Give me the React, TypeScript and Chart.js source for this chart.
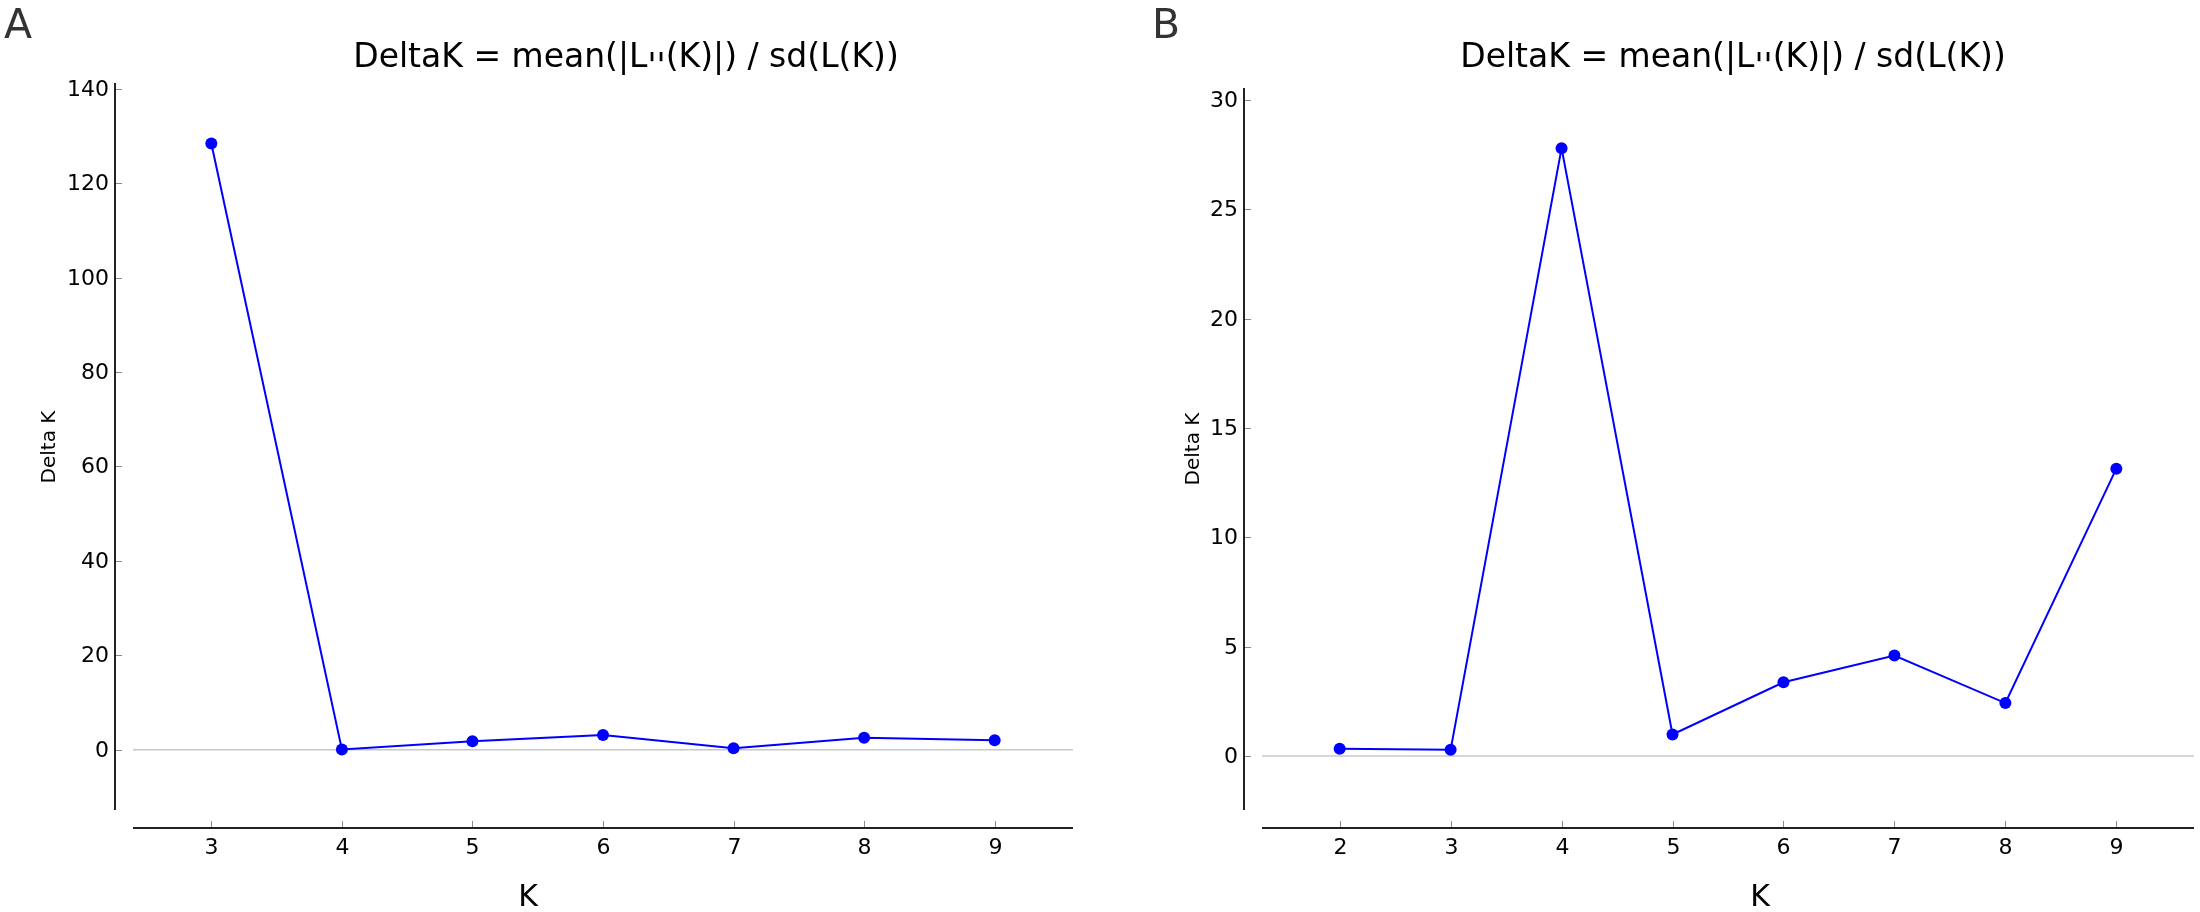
import React, { useEffect, useRef } from "react";
import { Chart, registerables } from "chart.js";

Chart.register(...registerables);

// ---- Data ----
const A_K = [3, 4, 5, 6, 7, 8, 9];
const A_DELTA = [128.4, 0.05, 1.8, 3.1, 0.3, 2.5, 2.0];
const A_Y_TICKS = [0, 20, 40, 60, 80, 100, 120, 140];

const B_K = [2, 3, 4, 5, 6, 7, 8, 9];
const B_DELTA = [0.33, 0.28, 27.8, 0.98, 3.37, 4.59, 2.42, 13.14];
const B_Y_TICKS = [0, 5, 10, 15, 20, 25, 30];

const TITLE_PARTS = ["DeltaK = mean(|L", "''", "(K)|) / sd(L(K))"];
const Y_LABEL = "Delta K";
const X_LABEL = "K";

const FONT = "'DejaVu Sans', sans-serif";

type PanelCfg = {
  letter: string;
  ks: number[];
  vals: number[];
  yTicks: number[];
  canvasLeft: number;
  area: { left: number; right: number; top: number; bottom: number };
  letterX: number;
  titleX: number;
  xLabelX: number;
  yLabelX: number;
  yLabelY: number;
};

const PANELS: PanelCfg[] = [
  {
    letter: "A",
    ks: A_K,
    vals: A_DELTA,
    yTicks: A_Y_TICKS,
    canvasLeft: 0,
    area: { left: 133, right: 1073, top: 83, bottom: 810 },
    letterX: 4,
    titleX: 626,
    xLabelX: 528,
    yLabelX: 50,
    yLabelY: 447,
  },
  {
    letter: "B",
    ks: B_K,
    vals: B_DELTA,
    yTicks: B_Y_TICKS,
    canvasLeft: 1100,
    area: { left: 1262, right: 2195, top: 88, bottom: 810 },
    letterX: 1152,
    titleX: 1733,
    xLabelX: 1760,
    yLabelX: 1194,
    yLabelY: 449,
  },
];

function limits(arr: number[]) {
  const mn = Math.min(...arr);
  const mx = Math.max(...arr);
  const r = mx - mn;
  return { min: mn - 0.1 * r, max: mx + 0.1 * r };
}

function makeDecorPlugin(p: PanelCfg) {
  const off = p.canvasLeft;
  return {
    id: "decor" + p.letter,
    beforeDatasetsDraw(chart: any) {
      const ctx = chart.ctx;
      const ys = chart.scales.y;
      const ca = chart.chartArea;
      const y0 = ys.getPixelForValue(0);
      ctx.save();
      ctx.strokeStyle = "#c8c8c8";
      ctx.lineWidth = 1.5;
      ctx.beginPath();
      ctx.moveTo(ca.left, y0);
      ctx.lineTo(ca.right, y0);
      ctx.stroke();
      ctx.restore();
    },
    afterDraw(chart: any) {
      const ctx = chart.ctx;
      const xs = chart.scales.x;
      const ys = chart.scales.y;
      const ca = chart.chartArea;
      const spineX = ca.left - 18;
      const spineY = ca.bottom + 18;
      ctx.save();
      // spines
      ctx.strokeStyle = "#222";
      ctx.lineWidth = 2;
      ctx.beginPath();
      ctx.moveTo(spineX, ca.top);
      ctx.lineTo(spineX, ca.bottom);
      ctx.stroke();
      ctx.beginPath();
      ctx.moveTo(ca.left, spineY);
      ctx.lineTo(ca.right, spineY);
      ctx.stroke();

      // y ticks
      ctx.strokeStyle = "#888";
      ctx.lineWidth = 1;
      ctx.fillStyle = "#000";
      ctx.font = `22px ${FONT}`;
      ctx.textAlign = "right";
      ctx.textBaseline = "middle";
      p.yTicks.forEach((t) => {
        const y = Math.round(ys.getPixelForValue(t)) + 0.5;
        ctx.beginPath();
        ctx.moveTo(spineX + 1, y);
        ctx.lineTo(spineX + 7, y);
        ctx.stroke();
        ctx.fillText(String(t), spineX - 6, y + 1);
      });

      // x ticks
      ctx.textAlign = "center";
      ctx.textBaseline = "alphabetic";
      p.ks.forEach((k) => {
        const x = Math.round(xs.getPixelForValue(k)) + 0.5;
        ctx.beginPath();
        ctx.moveTo(x, spineY - 1);
        ctx.lineTo(x, spineY - 7);
        ctx.stroke();
        ctx.fillText(String(k), x, 854);
      });

      // x label
      ctx.font = `30px ${FONT}`;
      ctx.fillText(X_LABEL, p.xLabelX - off, 906);

      // y label
      ctx.save();
      ctx.translate(p.yLabelX - off, p.yLabelY);
      ctx.rotate(-Math.PI / 2);
      ctx.font = `20px ${FONT}`;
      ctx.textAlign = "center";
      ctx.textBaseline = "middle";
      ctx.fillText(Y_LABEL, 0, 0);
      ctx.restore();

      // title (primes rendered low, as in the reference)
      ctx.font = `33px ${FONT}`;
      ctx.textAlign = "left";
      ctx.textBaseline = "alphabetic";
      ctx.fillStyle = "#000";
      const widths = TITLE_PARTS.map((s) => ctx.measureText(s).width);
      const total = widths.reduce((a, b) => a + b, 0);
      let tx = p.titleX - off - total / 2;
      TITLE_PARTS.forEach((s, i) => {
        ctx.fillText(s, tx, i === 1 ? 67 + 10 : 67);
        tx += widths[i];
      });

      // panel letter
      ctx.font = `41px ${FONT}`;
      ctx.textAlign = "left";
      ctx.fillStyle = "#333";
      ctx.fillText(p.letter, p.letterX - off, 38);
      ctx.restore();
    },
  };
}

function Panel({ p }: { p: PanelCfg }) {
  const ref = useRef<HTMLCanvasElement | null>(null);
  useEffect(() => {
    if (!ref.current) return;
    const xl = { min: Math.min(...p.ks), max: Math.max(...p.ks) };
    const xr = xl.max - xl.min;
    const yl = limits(p.vals);
    const chart = new Chart(ref.current, {
      type: "line",
      data: {
        datasets: [
          {
            data: p.ks.map((k, i) => ({ x: k, y: p.vals[i] })),
            borderColor: "#0000ff",
            backgroundColor: "#0000ff",
            borderWidth: 2,
            pointRadius: 6,
            pointBorderWidth: 0,
            tension: 0,
            fill: false,
          },
        ],
      },
      options: {
        responsive: false,
        animation: false,
        devicePixelRatio: 1,
        layout: {
          padding: {
            left: p.area.left - p.canvasLeft,
            right: p.canvasLeft + 1100 - p.area.right,
            top: p.area.top,
            bottom: 912 - p.area.bottom,
          },
        },
        scales: {
          x: { type: "linear", display: false, min: xl.min - 0.1 * xr, max: xl.max + 0.1 * xr },
          y: { type: "linear", display: false, min: yl.min, max: yl.max },
        },
        plugins: {
          legend: { display: false },
          tooltip: { enabled: false },
        },
      },
      plugins: [makeDecorPlugin(p)],
    } as any);
    return () => chart.destroy();
  }, [p]);
  return (
    <canvas
      ref={ref}
      width={1100}
      height={912}
      style={{ position: "absolute", left: p.canvasLeft, top: 0, width: 1100, height: 912 }}
    />
  );
}

export default function App() {
  return (
    <div
      style={{
        position: "fixed",
        left: 0,
        top: 0,
        width: 2200,
        height: 912,
        background: "#fff",
        overflow: "hidden",
      }}
    >
      {PANELS.map((p) => (
        <Panel key={p.letter} p={p} />
      ))}
    </div>
  );
}
